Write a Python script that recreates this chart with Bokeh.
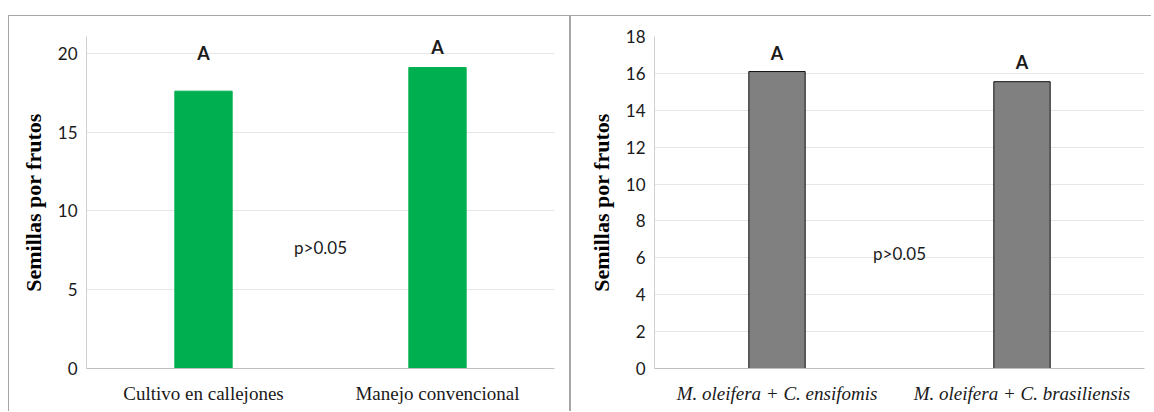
from bokeh.plotting import figure
from bokeh.models import Range1d, FactorRange, ColumnDataSource, Spacer, FixedTicker
from bokeh.layouts import row, column
from bokeh.core.properties import value
from bokeh.embed import file_html
from bokeh.resources import INLINE

# ---- data ----
left_categories = ["Cultivo en callejones", "Manejo convencional"]
left_values = [17.6, 19.1]
left_letters = ["A", "A"]
left_letter_y = [20.0, 20.4]
left_ticks = [0, 5, 10, 15, 20]
left_ymax = 21.07

right_categories = ["M. oleifera + C. ensifomis", "M. oleifera + C. brasiliensis"]
right_values = [16.1, 15.55]
right_letters = ["A", "A"]
right_letter_y = [17.1, 16.6]
right_ticks = [0, 2, 4, 6, 8, 10, 12, 14, 16, 18]
right_ymax = 18

p_text = "p>0.05"
left_p_y = 7.7
right_p_y = 6.25
mid_x = 1.0  # boundary between the two categories (synthetic coord)

y_label = "Semillas por frutos"

SANS = "Lato"
SERIF = "Liberation Serif"


def make_panel(cats, vals, letters, letter_y, ticks, ymax, p_y, color, line_color,
               bar_w, width, height, mb_left, mb_right, mb_top, mb_bottom, italic,
               border_css):
    p = figure(x_range=FactorRange(*cats), y_range=Range1d(0, ymax),
               width=width, height=height, output_backend="svg",
               toolbar_location=None, min_border_left=mb_left,
               min_border_right=mb_right, min_border_top=mb_top,
               min_border_bottom=mb_bottom, styles=border_css)
    src = ColumnDataSource(dict(cat=cats, val=vals, letter=letters, ly=letter_y))
    p.vbar(x="cat", top="val", width=bar_w, source=src, fill_color=color,
           line_color=line_color, line_width=1)
    p.text(x="cat", y="ly", text="letter", source=src, text_align="center",
           text_baseline="middle", text_font=value(SANS), text_font_style="bold",
           text_font_size="18px", text_color="#1a1a1a")
    p.text(x=[mid_x], y=[p_y], text=[p_text], text_align="center",
           text_baseline="middle", text_font=value(SANS), text_font_size="17px",
           text_color="#1a1a1a")

    p.outline_line_color = None
    p.xgrid.grid_line_color = None
    p.ygrid.grid_line_color = "#e6e6e6"
    p.ygrid.grid_line_width = 1

    p.yaxis.ticker = FixedTicker(ticks=ticks)
    p.yaxis.axis_line_color = "#d0d0d0"
    p.yaxis.major_tick_out = 0
    p.yaxis.major_tick_in = 0
    p.yaxis.minor_tick_out = 0
    p.yaxis.minor_tick_in = 0
    p.yaxis.major_label_text_font = SANS
    p.yaxis.major_label_text_font_size = "17px"
    p.yaxis.major_label_text_color = "#1a1a1a"
    p.yaxis.major_label_standoff = 9
    p.yaxis.axis_label = y_label
    p.yaxis.axis_label_text_font = SERIF
    p.yaxis.axis_label_text_font_style = "bold"
    p.yaxis.axis_label_text_font_size = "22px"
    p.yaxis.axis_label_text_color = "#000000"
    p.yaxis.axis_label_standoff = 9

    p.xaxis.axis_line_color = "#bfbfbf"
    p.xaxis.major_tick_out = 0
    p.xaxis.major_tick_in = 0
    p.xaxis.major_label_text_font = SERIF
    p.xaxis.major_label_text_font_size = "19px"
    p.xaxis.major_label_text_color = "#1a1a1a"
    p.xaxis.major_label_text_font_style = "italic" if italic else "normal"
    p.xaxis.major_label_standoff = 14
    p.background_fill_color = "white"
    p.border_fill_color = "white"
    return p


left = make_panel(left_categories, left_values, left_letters, left_letter_y,
                  left_ticks, left_ymax, left_p_y, "#00b050", "#00b050", 0.245,
                  562, 396, 77, 17, 19, 44, False,
                  {"border": "1px solid #a6a6a6", "border-bottom": "none"})
right = make_panel(right_categories, right_values, right_letters, right_letter_y,
                   right_ticks, right_ymax, right_p_y, "#808080", "#111111", 0.23,
                   581, 396, 83, 8, 20, 43, True,
                   {"border-left": "1px solid #a6a6a6", "border-top": "1px solid #a6a6a6"})

layout = column(Spacer(width=10, height=15),
                row(Spacer(width=8, height=10), left, right, spacing=0),
                spacing=0)

open("out.html", "w").write(file_html(layout, INLINE))
